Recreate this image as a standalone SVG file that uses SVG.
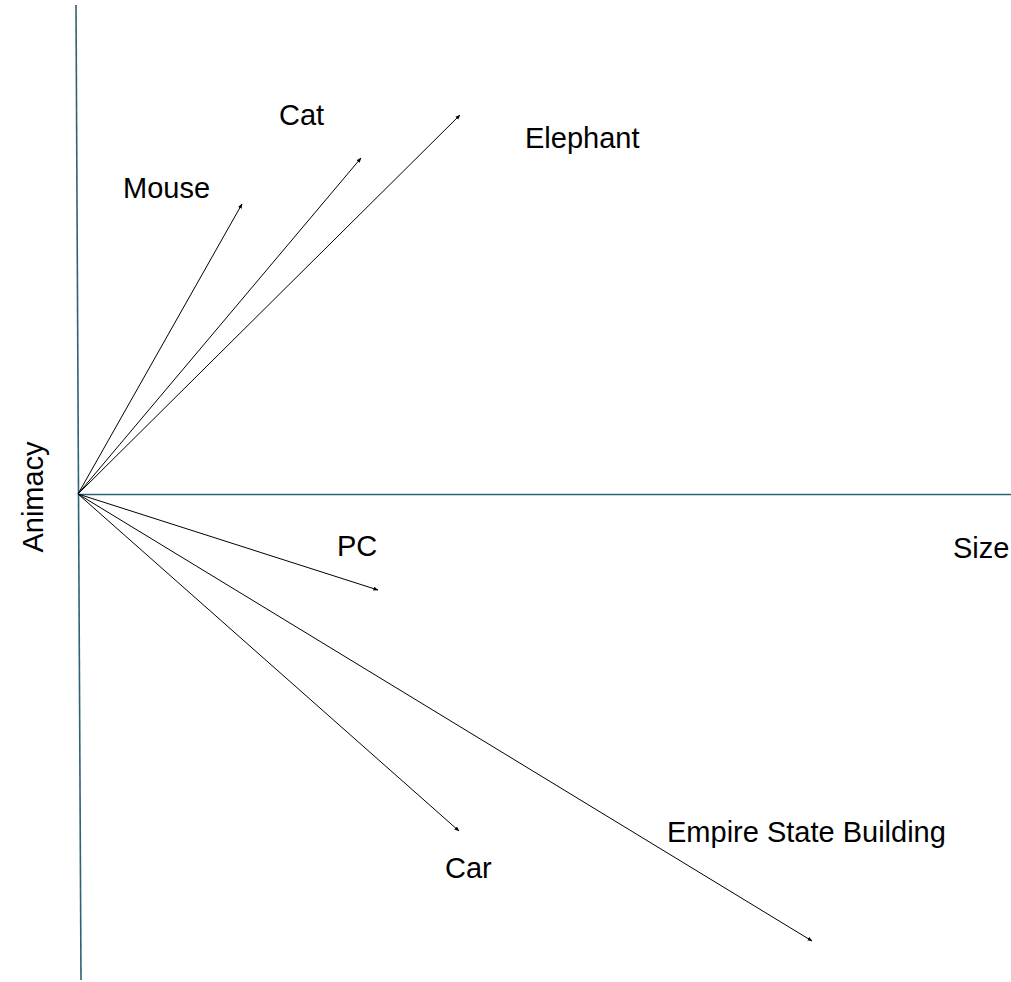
<svg xmlns="http://www.w3.org/2000/svg" width="1011" height="982" viewBox="0 0 1011 982">
  <style>
    .axis { stroke: #2f6275; stroke-width: 1.6; fill: none; }
    .vec { stroke: #000; stroke-width: 1; fill: none; marker-end: url(#tip); }
    .lbl { font-family: "Liberation Sans", Arial, sans-serif; font-size: 29px; fill: #000; }
  </style>
  <defs>
    <marker id="tip" viewBox="0 0 10 10" refX="9" refY="5" markerWidth="5" markerHeight="5" orient="auto" markerUnits="userSpaceOnUse">
      <path d="M0,1 L10,5 L0,9 z" fill="#000"/>
    </marker>
  </defs>
  <rect width="1011" height="982" fill="#fff"/>

  <!-- axes: slightly leaning vertical, horizontal through the origin -->
  <g id="axes">
    <line class="axis" x1="76" y1="5" x2="81" y2="980"/>
    <line class="axis" x1="78" y1="494.5" x2="1011" y2="494.5"/>
  </g>

  <!-- vectors from the origin -->
  <g id="connectors">
    <line class="vec" x1="78" y1="494" x2="242" y2="204"/>
    <line class="vec" x1="78" y1="494" x2="361" y2="158"/>
    <line class="vec" x1="78" y1="494" x2="460" y2="115"/>
    <line class="vec" x1="78" y1="494" x2="378" y2="590"/>
    <line class="vec" x1="78" y1="494" x2="459" y2="831"/>
    <line class="vec" x1="78" y1="494" x2="812" y2="941"/>
  </g>

  <g id="mouse"><text class="lbl" x="123" y="198">Mouse</text></g>
  <g id="cat"><text class="lbl" x="279" y="125">Cat</text></g>
  <g id="elephant"><text class="lbl" x="525" y="148">Elephant</text></g>
  <g id="pc"><text class="lbl" x="337" y="556">PC</text></g>
  <g id="size"><text class="lbl" x="953" y="558">Size</text></g>
  <g id="car"><text class="lbl" x="445" y="878">Car</text></g>
  <g id="empire"><text class="lbl" x="667" y="842">Empire State Building</text></g>
  <g id="animacy"><text class="lbl" transform="translate(43,497) rotate(-90)" text-anchor="middle">Animacy</text></g>
</svg>
